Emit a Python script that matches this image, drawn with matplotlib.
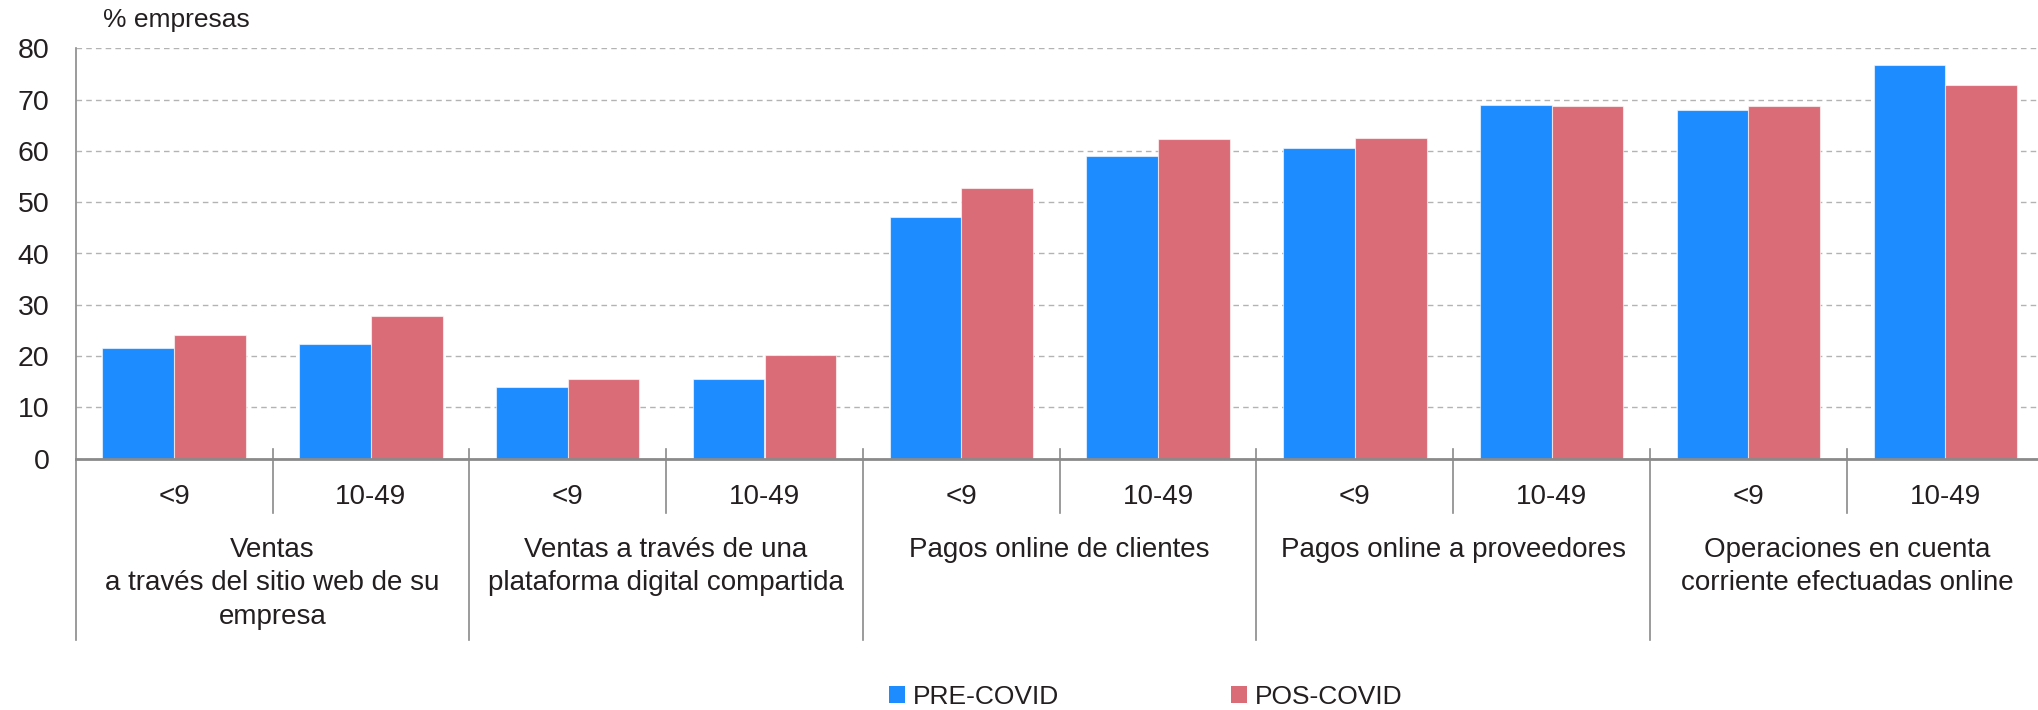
import matplotlib
matplotlib.use('Agg')
import matplotlib.pyplot as plt
from matplotlib.patches import Patch
from matplotlib.lines import Line2D
import matplotlib.transforms as mtransforms

# ---- data ----
groups = ["Ventas\na través del sitio web de su\nempresa",
          "Ventas a través de una\nplataforma digital compartida",
          "Pagos online de clientes",
          "Pagos online a proveedores",
          "Operaciones en cuenta\ncorriente efectuadas online"]
sizes = ["<9", "10-49"]
pre_covid = [21.6, 22.3, 14.0, 15.5, 47.2, 59.0, 60.6, 68.9, 68.0, 76.7]
pos_covid = [24.2, 27.8, 15.5, 20.2, 52.7, 62.3, 62.6, 68.7, 68.7, 72.8]
series_names = ["PRE-COVID", "POS-COVID"]
yticks = [0, 10, 20, 30, 40, 50, 60, 70, 80]
y_title = "% empresas"

# ---- style ----
BLUE = '#1c8cff'
RED = '#da6c78'
TXT = '#231f20'
GREY = '#8a8a8a'
plt.rcParams['font.family'] = ['Liberation Sans', 'DejaVu Sans']

W, H = 2038, 710
fig = plt.figure(figsize=(W / 100, H / 100), dpi=100)
ax_left, ax_bottom_px, ax_top_px, cat_w = 75.7, 458.7, 48.3, 196.8
ax_h = ax_bottom_px - ax_top_px
ax = fig.add_axes([ax_left / W, 1 - ax_bottom_px / H, 10 * cat_w / W, ax_h / H])

n = len(pre_covid)
xs = list(range(n))
bw = 0.364
ax.bar([x - bw / 2 for x in xs], pre_covid, width=bw, color=BLUE,
       edgecolor=(1, 1, 1, 0.6), linewidth=0.8, zorder=3)
ax.bar([x + bw / 2 for x in xs], pos_covid, width=bw, color=RED,
       edgecolor=(1, 1, 1, 0.6), linewidth=0.8, zorder=3)

ax.set_xlim(-0.5, n - 0.5)
ax.set_ylim(0, 80)
ax.set_yticks(yticks)
ax.set_yticklabels([str(v) for v in yticks], fontsize=20.5, color=TXT)
ax.tick_params(axis='y', length=0, pad=19)
ax.set_xticks([])
ax.yaxis.grid(True, linestyle=(0, (4, 3)), color='#b3b3b3', linewidth=1)
ax.set_axisbelow(True)
for s in ['top', 'right']:
    ax.spines[s].set_visible(False)
ax.spines['left'].set_color(GREY)
ax.spines['left'].set_linewidth(1.2)
ax.spines['bottom'].set_color(GREY)
ax.spines['bottom'].set_linewidth(2)
ax.spines['bottom'].set_zorder(4)

trans = mtransforms.blended_transform_factory(ax.transData, ax.transAxes)
def fy(px):
    # pixel row (from top) -> axes fraction
    return (ax_bottom_px - px) / ax_h

# left spine extension
ax.add_line(Line2D([-0.5, -0.5], [0, fy(640)], transform=trans, color=GREY,
                   lw=1.2, clip_on=False))
# separators
for k in range(1, n):
    bottom = fy(513) if k % 2 == 1 else fy(640)
    ax.add_line(Line2D([k - 0.5, k - 0.5], [fy(449), bottom], transform=trans,
                       color=GREY, lw=1.2, clip_on=False))

# subcategory labels
for i in range(n):
    ax.text(i, fy(497), sizes[i % 2], transform=trans, ha='center', va='center',
            fontsize=20, color=TXT)
# group labels
for g, name in enumerate(groups):
    ax.text(2 * g + 0.5, fy(537), name, transform=trans, ha='center', va='top',
            fontsize=20, color=TXT, linespacing=1.37)

fig.text(103 / W, 1 - 20 / H, y_title, ha='left', va='center', fontsize=19, color=TXT)

# legend
for name, col, xpx in [(series_names[0], BLUE, 889), (series_names[1], RED, 1231)]:
    fig.legend(handles=[Patch(facecolor=col, edgecolor='none', label=name)],
               loc='center left', bbox_to_anchor=(xpx / W, 1 - 697 / H),
               frameon=False, fontsize=19, borderpad=0, borderaxespad=0,
               handlelength=0.6, handleheight=0.6, handletextpad=0.3,
               labelcolor=TXT)

fig.savefig('out.png', dpi=100)
